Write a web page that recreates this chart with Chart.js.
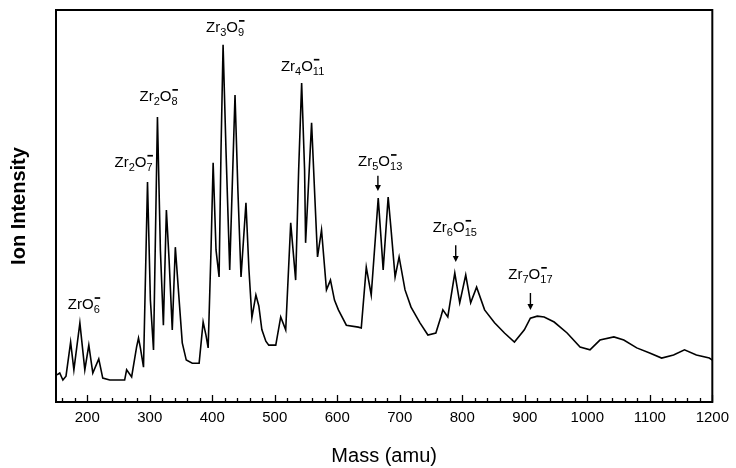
<!DOCTYPE html>
<html><head><meta charset="utf-8">
<script src="https://cdn.jsdelivr.net/npm/chart.js@4/dist/chart.umd.min.js"></script>
<style>html,body{margin:0;padding:0;background:#fff}#wrap{width:736px;height:468px}</style>
</head><body><div id="wrap"><canvas id="c" width="736" height="468"></canvas></div>
<script>
// Mass (amu) and ion intensity (arbitrary units, 0-100)
const massValues = [151.6,156,161,166,173.4,178.6,188.2,196.1,202.5,208.9,218.4,224.8,236,259.8,263,271,278.9,282,285,290,296.4,301,306,312.3,317,321.8,326.6,331,336,340.9,347,352,358.4,368,379,385.4,390,393.4,398,401.4,406,410.9,414,417.3,422,427.9,436.4,441,446,453.9,458.6,463.4,469.8,474.5,479.3,485.7,490.4,501.6,509.5,517.5,525.5,533.4,538.2,543,547.7,549.3,558.9,563.6,568.4,574.8,582.7,589.1,595.5,601.8,614.5,633.6,638.4,646.4,654.3,660.7,665.5,670.2,673.4,681.4,686.1,692.5,698.9,708.4,718,732.3,745,757.7,765.7,768.9,776.8,788,795.9,805.5,813.4,822.9,835.7,851.6,867.5,883.4,899.3,908.9,920,931,947,967.7,988.4,1004.3,1020.2,1042.5,1058.4,1079.1,1099.8,1118.9,1138,1155.5,1174.5,1195.2,1200];
const intensityValues = [6.9,7.4,5.6,6.6,15.3,8.2,20.2,8.2,14.5,7.4,11.0,6.1,5.6,5.6,8.2,6.4,14.0,16.3,13.8,8.9,56.1,26,13.3,72.7,38.8,19.6,49.0,36,18.4,39.5,26,15.1,10.7,9.9,9.9,20.4,17,13.8,38.8,61.0,38.8,31.9,64.3,91.1,64,33.7,78.3,54,31.9,50.8,34,21.5,27.3,24.5,18.5,15.5,14.5,14.5,21.7,18.4,45.7,31.1,59.2,81.4,59.2,40.6,71.2,54,37,43.9,28.6,31.1,26,23.5,19.6,19.1,18.9,34.4,27.3,41.3,52,41.3,33.7,52.3,43.9,31.9,37,28.6,24.2,20.2,17.1,17.6,21.7,23.5,21.7,32.9,25.3,32.4,25.3,29.3,23.5,20.2,17.6,15.3,18.4,21.4,21.9,21.7,20.4,17.6,14,13.3,15.8,16.6,15.8,13.8,12.5,11.2,12,13.3,12,11.2,10.7];
const majorTickLabels = [200,300,400,500,600,700,800,900,1000,1100,1200];
const minorTickStep = 20;

// Cluster ion labels: Zr_n O_m^-
const ionZr = [1,2,2,3,4,5,6,7];
const ionO = [6,7,8,9,11,13,15,17];
const ionLabelMass = [194.5,274,314,420.5,544.5,668.6,788,909];
const ionLabelLevel = [24.7,61,77.8,95.4,85.5,61.2,44.4,32.4];
// arrows for the weaker clusters
const arrowMass = [665,789.5,909];
const arrowTop = [57.7,40,27.8];
const arrowTip = [53.8,35.7,23.5];

const FONT = '"Liberation Sans", Arial, sans-serif';

const decor = {
  id: 'decor',
  afterDraw(chart) {
    const ctx = chart.ctx, a = chart.chartArea;
    const xs = chart.scales.x, ys = chart.scales.y;
    ctx.save();
    // frame
    ctx.strokeStyle = '#000'; ctx.lineWidth = 2;
    ctx.strokeRect(a.left, a.top, a.right - a.left, a.bottom - a.top);
    // inward tick marks
    ctx.lineWidth = 1.3;
    const first = Math.ceil(xs.min / minorTickStep) * minorTickStep;
    for (let v = first; v <= xs.max; v += minorTickStep) {
      const px = Math.round(xs.getPixelForValue(v)) + 0.5;
      const len = majorTickLabels.includes(v) ? 7 : 4;
      ctx.beginPath(); ctx.moveTo(px, a.bottom); ctx.lineTo(px, a.bottom - len); ctx.stroke();
    }
    // labels
    ctx.fillStyle = '#000';
    ctx.textBaseline = 'middle';
    const big = '15px ' + FONT, small = '11px ' + FONT;
    for (let i = 0; i < ionZr.length; i++) {
      const parts = [];
      parts.push({t: 'Zr', f: big, dy: 0});
      if (ionZr[i] > 1) parts.push({t: String(ionZr[i]), f: small, dy: 5});
      parts.push({t: 'O', f: big, dy: 0});
      parts.push({t: String(ionO[i]), f: small, dy: 5, minus: true});
      let w = 0;
      parts.forEach(p => { ctx.font = p.f; p.w = ctx.measureText(p.t).width; w += p.w; });
      let x = xs.getPixelForValue(ionLabelMass[i]) - w / 2;
      const y = ys.getPixelForValue(ionLabelLevel[i]);
      parts.forEach(p => {
        ctx.font = p.f; ctx.textAlign = 'left';
        ctx.fillText(p.t, x, y + p.dy);
        if (p.minus) {
          ctx.fillRect(x + 1, y - 8, 5.5, 1.7);
        }
        x += p.w;
      });
    }
    // arrows
    ctx.lineWidth = 1.4;
    for (let i = 0; i < arrowMass.length; i++) {
      const px = xs.getPixelForValue(arrowMass[i]);
      const y0 = ys.getPixelForValue(arrowTop[i]), y1 = ys.getPixelForValue(arrowTip[i]);
      ctx.beginPath(); ctx.moveTo(px, y0); ctx.lineTo(px, y1 - 5); ctx.stroke();
      ctx.beginPath(); ctx.moveTo(px - 3, y1 - 6); ctx.lineTo(px + 3, y1 - 6); ctx.lineTo(px, y1); ctx.closePath(); ctx.fill();
    }
    ctx.restore();
  }
};

new Chart(document.getElementById('c'), {
  type: 'line',
  data: {
    datasets: [{
      data: massValues.map((m, i) => ({x: m, y: intensityValues[i]})),
      borderColor: '#000', borderWidth: 1.6, pointRadius: 0, tension: 0, fill: false
    }]
  },
  options: {
    responsive: false, animation: false, devicePixelRatio: 1,
    layout: {padding: {top: 10, right: 20, left: 0, bottom: 0}},
    plugins: {legend: {display: false}, tooltip: {enabled: false}},
    scales: {
      x: {
        type: 'linear', min: 150, max: 1200,
        afterFit(s) { s.height = 66; },
        afterBuildTicks(s) { s.ticks = majorTickLabels.map(v => ({value: v})); },
        grid: {display: false, drawTicks: false},
        border: {display: true, color: '#000', width: 2},
        ticks: {autoSkip: false, maxRotation: 0, color: '#000', padding: 7, font: {family: FONT, size: 15},
                callback: v => String(v)},
        title: {display: true, text: 'Mass (amu)', color: '#000', font: {family: FONT, size: 20}, padding: {top: 0, bottom: 0}}
      },
      y: {
        min: 0, max: 100,
        afterFit(s) { s.width = 56; },
        grid: {display: false, drawTicks: false},
        border: {display: true, color: '#000', width: 2},
        ticks: {display: false},
        title: {display: true, text: 'Ion Intensity', color: '#000', font: {family: FONT, size: 20, weight: 'bold'}, padding: {top: 7, bottom: 0}}
      }
    }
  },
  plugins: [decor]
});
</script></body></html>
